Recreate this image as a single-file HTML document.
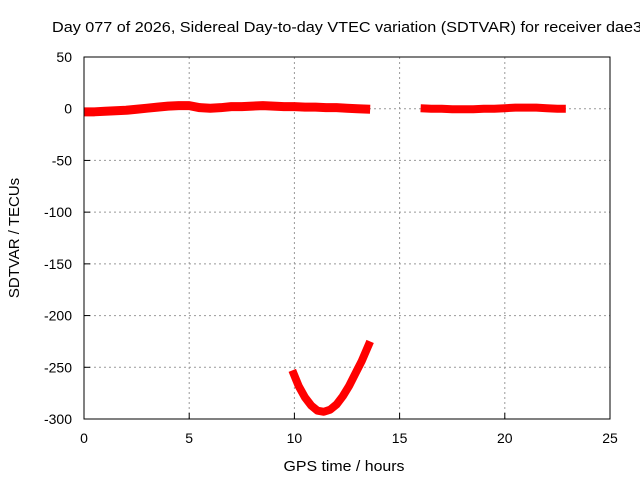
<!DOCTYPE html>
<html><head><meta charset="utf-8"><style>
body{margin:0;background:#fff}
svg{display:block;font-family:"Liberation Sans",sans-serif}
</style></head><body>
<svg id="chart" width="640" height="480" xmlns="http://www.w3.org/2000/svg">
<text x="52" y="32" font-size="15" textLength="590" lengthAdjust="spacingAndGlyphs">Day 077 of 2026, Sidereal Day-to-day VTEC variation (SDTVAR) for receiver dae3</text>
<text x="344" y="471" font-size="15" text-anchor="middle" textLength="121" lengthAdjust="spacingAndGlyphs">GPS time / hours</text>
<text transform="translate(19,238) rotate(-90)" font-size="15" text-anchor="middle">SDTVAR / TECUs</text>
<g id="grid"></g><g id="ticks"></g><g id="series"></g>
<rect x="84" y="57" width="526" height="362" fill="none" stroke="#000" stroke-width="1"/>
</svg>
<script>
const xTicks=[0,5,10,15,20,25];
const yTicks=[50,0,-50,-100,-150,-200,-250,-300];
const seg1X=[0,0.5,1,1.5,2,2.5,3,3.5,4,4.5,5,5.5,6,6.5,7,7.5,8,8.5,9,9.5,10,10.5,11,11.5,12,12.5,13,13.6];
const seg1Y=[-3,-3,-2.5,-2,-1.5,-0.5,0.5,1.5,2.5,3,3,1,0.5,1,2,2,2.5,3,2.5,2,2,1.5,1.5,1,1,0.5,0,-0.5];
const seg2X=[16,16.5,17,17.5,18,18.5,19,19.5,20,20.5,21,21.5,22,22.5,22.9];
const seg2Y=[0.5,0,0,-0.5,-0.5,-0.5,0,0,0.5,1,1,1,0.5,0,0];
const seg3X=[9.9,10.2,10.5,10.8,11.1,11.4,11.7,12,12.3,12.6,12.9,13.2,13.6];
const seg3Y=[-253,-268,-279,-287,-292,-293,-291,-286,-278,-268,-256,-244,-225];
const X=v=>84+v*526/25, Y=v=>57+(50-v)*362/350;
const ns="http://www.w3.org/2000/svg";
const g=document.getElementById('grid'),t=document.getElementById('ticks'),s=document.getElementById('series');
function mk(tag,at,p){const e=document.createElementNS(ns,tag);for(const k in at)e.setAttribute(k,at[k]);p.appendChild(e);return e;}
xTicks.forEach(v=>{
 if(v>0&&v<25){const l=mk('line',{x1:X(v),x2:X(v),y1:57,y2:419,stroke:'#999','stroke-dasharray':'2,3'},g);
 
 }
 const tk=mk('line',{x1:X(v),x2:X(v),y1:419,y2:413,stroke:'#000'},t);
 
 
 const tx=mk('text',{x:X(v),y:443,'font-size':14,'text-anchor':'middle'},t);tx.textContent=v;
 
 
});
yTicks.forEach(v=>{
 if(v<50&&v>-300){const l=mk('line',{x1:84,x2:610,y1:Y(v),y2:Y(v),stroke:'#999','stroke-dasharray':'2,3'},g);
 
 }
 const tk=mk('line',{x1:84,x2:90,y1:Y(v),y2:Y(v),stroke:'#000'},t);
 
 
 const tx=mk('text',{x:72,y:Y(v)+5,'font-size':14,'text-anchor':'end'},t);tx.textContent=v;
 
 
});
function line(xs,ys,w,name){
 const p=mk('polyline',{points:xs.map((x,i)=>X(x)+','+Y(ys[i])).join(' '),fill:'none',stroke:'#f00','stroke-width':w,'stroke-linejoin':'round','stroke-linecap':'butt'},s);
 
 
}
line(seg1X,seg1Y,9,'series-segment-1');
line(seg2X,seg2Y,8,'series-segment-2');
line(seg3X,seg3Y,8,'series-dip-segment');
</script>
</body></html>
